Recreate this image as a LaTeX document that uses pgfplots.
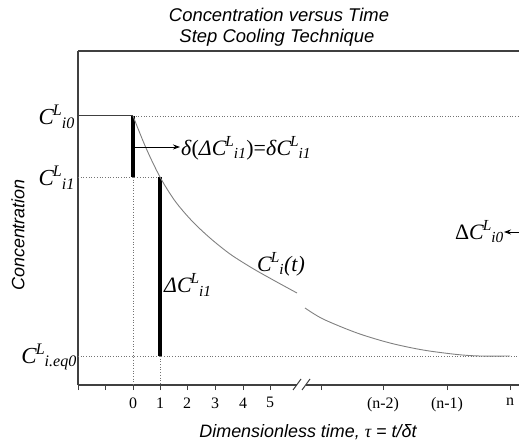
\documentclass[border=0pt]{standalone}
\usepackage{fontspec}
\setmainfont{Liberation Serif}
\setsansfont{Liberation Sans}
\usepackage{amsmath}
\usepackage{pgfplots}
\pgfplotsset{compat=1.18}
\usetikzlibrary{arrows.meta}
\newcommand{\CL}[1]{$\textit{C}^{\kern-1pt\textit{L}}{}_{\kern-0.5pt\textit{#1}}$}
\begin{document}
\begin{tikzpicture}
\begin{axis}[
  scale only axis, width=441bp, height=334bp,
  xmin=78, xmax=519, ymin=60, ymax=394,
  axis x line*=bottom, axis y line*=left,
  axis line style={line width=1.1pt, color=black!75, -},
  xtick={78,105,133,160,187,215,243,270,321,383,447,510},
  xticklabels={,,0,1,2,3,4,5,,(n-2),(n-1),n},
  ytick=\empty,
  tick style={black!75, line width=1pt},
  major tick length=5bp, tick align=outside,
  xticklabel style={font=\fontsize{16}{16}\selectfont, yshift=-4bp},
  clip=false,
]
% frame top
\draw[line width=1.1pt, black!75] (axis cs:78,394) -- (axis cs:519,394);
% dotted guide lines
\addplot[black!55, dotted, line width=0.7pt] coordinates {(133,329) (519,329)};
\addplot[black!55, dotted, line width=0.7pt] coordinates {(78,268) (160,268)};
\addplot[black!55, dotted, line width=0.7pt] coordinates {(78,89) (519,89)};
\addplot[black!55, dotted, line width=0.7pt] coordinates {(133,268) (133,60)};
\addplot[black!55, dotted, line width=0.7pt] coordinates {(160,89) (160,60)};
% initial level
\addplot[black!75, line width=1pt] coordinates {(78,329) (133,329)};
% step bars
\addplot[black, line width=3.5bp] coordinates {(133,329) (133,268)};
\addplot[black, line width=3.5bp] coordinates {(160,268) (160,89)};
% concentration curve
\addplot[black!50, line width=0.9pt, smooth] coordinates {
 (133,329) (146,297) (160,268) (175,244) (192,224) (210,207) (230,191)
 (252,177) (275,164) (297,152)};
\addplot[black!50, line width=0.9pt, smooth] coordinates {
 (305,137) (323,126) (357,112) (390,102) (423,95) (457,90.5) (480,89) (510,89)};
% axis break
\fill[white] (axis cs:297,55) rectangle (axis cs:306,65);
\draw[black!75, line width=1pt] (axis cs:293,55) -- (axis cs:301,66);
\draw[black!75, line width=1pt] (axis cs:302,55) -- (axis cs:310,66);
% arrows and labels
\draw[-{Stealth[length=7pt,width=5pt]}, line width=0.8pt] (axis cs:135,298) -- (axis cs:180,298);
\node[anchor=west, font=\fontsize{22}{22}\selectfont, inner sep=0pt] at (axis cs:181,297)
  {\textit{δ}(\textit{Δ}\CL{i1})=\textit{δ}\CL{i1}};
\draw[-{Stealth[length=7pt,width=5pt]}, line width=0.8pt] (axis cs:519,213) -- (axis cs:504,213);
\node[anchor=east, font=\fontsize{22}{22}\selectfont, inner sep=0pt] at (axis cs:504,213)
  {Δ\CL{i0}};
\node[anchor=west, font=\fontsize{22}{22}\selectfont, inner sep=0pt] at (axis cs:164,160)
  {\textit{Δ}\CL{i1}};
\node[anchor=west, font=\fontsize{22}{22}\selectfont, inner sep=0pt] at (axis cs:257,181)
  {\CL{i}\textit{(t)}};
% y level labels
\node[anchor=east, font=\fontsize{23}{23}\selectfont, inner sep=0pt] at (axis cs:75,328) {\CL{i0}};
\node[anchor=east, font=\fontsize{23}{23}\selectfont, inner sep=0pt] at (axis cs:75,267) {\CL{i1}};
\node[anchor=east, font=\fontsize{23}{23}\selectfont, inner sep=0pt] at (axis cs:77,88) {\CL{i.eq0}};
% titles
\node[font=\sffamily\itshape\fontsize{18.5}{18.5}\selectfont] at (axis cs:279,430) {Concentration versus Time};
\node[font=\sffamily\itshape\fontsize{18.5}{18.5}\selectfont] at (axis cs:277,407) {Step Cooling Technique};
\node[rotate=90, font=\sffamily\itshape\fontsize{18}{18}\selectfont] at (axis cs:18,210) {Concentration};
\node[font=\sffamily\itshape\fontsize{18}{18}\selectfont] at (axis cs:308,13)
  {Dimensionless time, {\rmfamily\itshape τ} = t/δt};
\coordinate (ll) at (axis cs:0,0);
\coordinate (ur) at (axis cs:519,445);
\end{axis}
\pgfresetboundingbox
\useasboundingbox (ll) rectangle (ur);
\end{tikzpicture}
\end{document}
